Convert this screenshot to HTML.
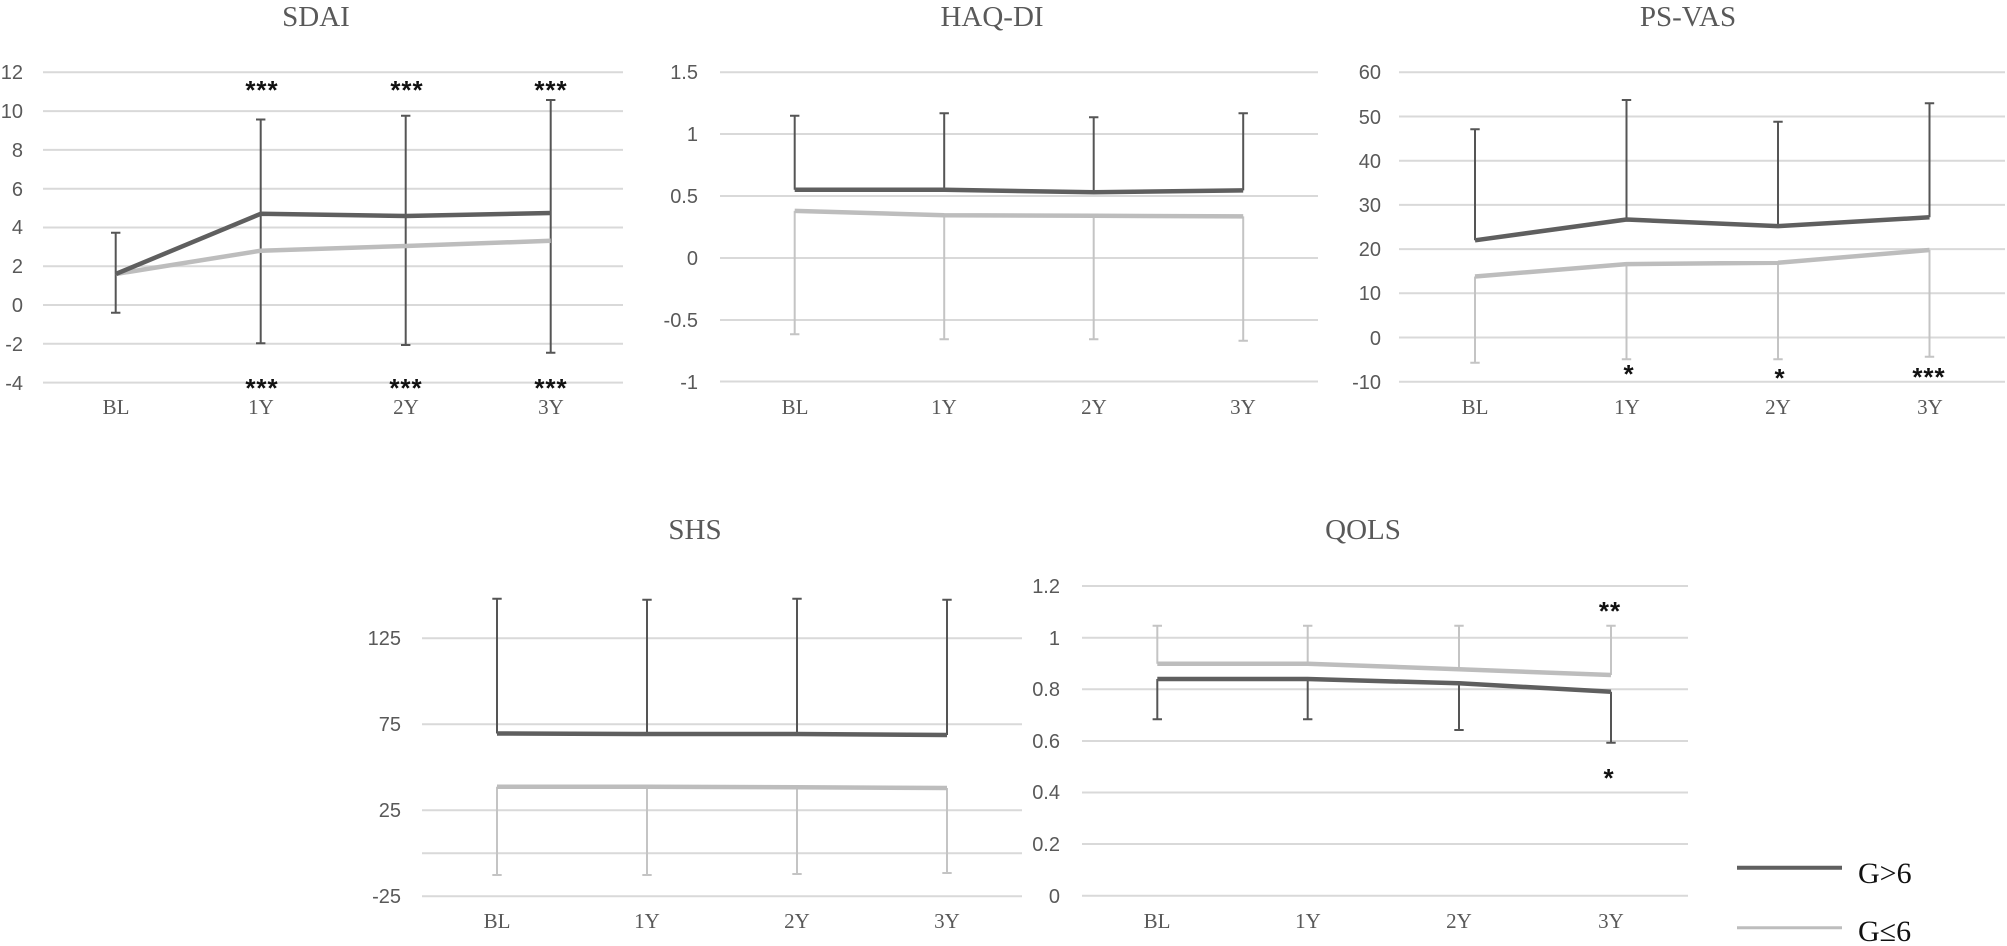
<!DOCTYPE html>
<html><head><meta charset="utf-8"><style>
html,body{margin:0;padding:0;background:#fff;}
svg{display:block;}
.g{stroke:#d9d9d9;stroke-width:2;}
.yl{font-family:"Liberation Sans",sans-serif;font-size:20px;fill:#595959;text-anchor:end;}
.xl{font-family:"Liberation Serif",serif;font-size:21px;fill:#595959;text-anchor:middle;}
.t{font-family:"Liberation Serif",serif;font-size:29px;fill:#595959;text-anchor:middle;}
.st{font-family:"Liberation Sans",sans-serif;font-size:26px;font-weight:bold;fill:#111;text-anchor:middle;letter-spacing:1px;}
.d{stroke:#5f5f5f;stroke-width:4.5;fill:none;stroke-linejoin:round;}
.l{stroke:#bdbdbd;stroke-width:4.5;fill:none;stroke-linejoin:round;}
.de{stroke:#555;stroke-width:2;fill:none;}
.le{stroke:#c4c4c4;stroke-width:2;fill:none;}
</style></head><body>
<svg width="2007" height="946" viewBox="0 0 2007 946" xmlns="http://www.w3.org/2000/svg">
<!-- SDAI -->
<text class="t" x="316" y="26">SDAI</text>
<g class="g">
<line x1="43" x2="623" y1="72.3" y2="72.3"/><line x1="43" x2="623" y1="111.1" y2="111.1"/><line x1="43" x2="623" y1="149.9" y2="149.9"/><line x1="43" x2="623" y1="188.7" y2="188.7"/><line x1="43" x2="623" y1="227.5" y2="227.5"/><line x1="43" x2="623" y1="266.3" y2="266.3"/><line x1="43" x2="623" y1="305" y2="305"/><line x1="43" x2="623" y1="343.8" y2="343.8"/><line x1="43" x2="623" y1="382.6" y2="382.6"/>
</g>
<g class="yl">
<text x="23" y="79">12</text><text x="23" y="118">10</text><text x="23" y="157">8</text><text x="23" y="196">6</text><text x="23" y="234">4</text><text x="23" y="273">2</text><text x="23" y="312">0</text><text x="23" y="351">-2</text><text x="23" y="390">-4</text>
</g>
<g class="xl"><text x="116" y="414">BL</text><text x="261" y="414">1Y</text><text x="406" y="414">2Y</text><text x="551" y="414">3Y</text></g>
<g class="de">
<path d="M115.7 232.7V312.7M111 232.7h9.4M111 312.7h9.4"/>
<path d="M260.7 119.5V343.3M256 119.5h9.4M256 343.3h9.4"/>
<path d="M405.7 115.7V345M401 115.7h9.4M401 345h9.4"/>
<path d="M550.7 100V352.7M546 100h9.4M546 352.7h9.4"/>
</g>
<polyline class="l" points="115.7,274 260.7,250.7 405.7,246 550.7,240.8"/>
<polyline class="d" points="115.7,274 260.7,213.8 405.7,216 550.7,213"/>
<g class="st"><text x="262" y="99">***</text><text x="407" y="99">***</text><text x="551" y="99">***</text>
<text x="262" y="397">***</text><text x="406" y="397">***</text><text x="551" y="397">***</text></g>

<!-- HAQ-DI -->
<text class="t" x="992" y="26">HAQ-DI</text>
<g class="g">
<line x1="720" x2="1318" y1="72.3" y2="72.3"/><line x1="720" x2="1318" y1="134" y2="134"/><line x1="720" x2="1318" y1="196" y2="196"/><line x1="720" x2="1318" y1="258" y2="258"/><line x1="720" x2="1318" y1="320" y2="320"/><line x1="720" x2="1318" y1="381.5" y2="381.5"/>
</g>
<g class="yl">
<text x="698" y="79">1.5</text><text x="698" y="141">1</text><text x="698" y="203">0.5</text><text x="698" y="265">0</text><text x="698" y="327">-0.5</text><text x="698" y="389">-1</text>
</g>
<g class="xl"><text x="795" y="414">BL</text><text x="944" y="414">1Y</text><text x="1094" y="414">2Y</text><text x="1243" y="414">3Y</text></g>
<g class="de">
<path d="M794.7 189.8V115.7M790 115.7h9.4"/>
<path d="M944.2 189.8V113.3M939.5 113.3h9.4"/>
<path d="M1093.7 192.3V117.3M1089 117.3h9.4"/>
<path d="M1243.2 190.4V113.3M1238.5 113.3h9.4"/>
</g>
<g class="le">
<path d="M794.7 210.9V334.3M790 334.3h9.4"/>
<path d="M944.2 215.2V339.3M939.5 339.3h9.4"/>
<path d="M1093.7 215.8V339.3M1089 339.3h9.4"/>
<path d="M1243.2 216.4V340.7M1238.5 340.7h9.4"/>
</g>
<polyline class="l" points="794.7,210.9 944.2,215.2 1093.7,215.8 1243.2,216.4"/>
<polyline class="d" points="794.7,189.8 944.2,189.8 1093.7,192.3 1243.2,190.4"/>

<!-- PS-VAS -->
<text class="t" x="1688" y="26">PS-VAS</text>
<g class="g">
<line x1="1399" x2="2005" y1="72.3" y2="72.3"/><line x1="1399" x2="2005" y1="116.5" y2="116.5"/><line x1="1399" x2="2005" y1="160.7" y2="160.7"/><line x1="1399" x2="2005" y1="204.9" y2="204.9"/><line x1="1399" x2="2005" y1="249.1" y2="249.1"/><line x1="1399" x2="2005" y1="293.3" y2="293.3"/><line x1="1399" x2="2005" y1="337.5" y2="337.5"/><line x1="1399" x2="2005" y1="381.7" y2="381.7"/>
</g>
<g class="yl">
<text x="1381" y="79">60</text><text x="1381" y="124">50</text><text x="1381" y="168">40</text><text x="1381" y="212">30</text><text x="1381" y="256">20</text><text x="1381" y="300">10</text><text x="1381" y="345">0</text><text x="1381" y="389">-10</text>
</g>
<g class="xl"><text x="1475" y="414">BL</text><text x="1627" y="414">1Y</text><text x="1778" y="414">2Y</text><text x="1930" y="414">3Y</text></g>
<g class="de">
<path d="M1475 240.3V129.3M1470.3 129.3h9.4"/>
<path d="M1626.5 219.5V100M1621.8 100h9.4"/>
<path d="M1778 226.1V121.7M1773.3 121.7h9.4"/>
<path d="M1929.5 217.3V103.3M1924.8 103.3h9.4"/>
</g>
<g class="le">
<path d="M1475 276.5V362.7M1470.3 362.7h9.4"/>
<path d="M1626.5 264.1V359.3M1621.8 359.3h9.4"/>
<path d="M1778 262.8V359.3M1773.3 359.3h9.4"/>
<path d="M1929.5 250V356.7M1924.8 356.7h9.4"/>
</g>
<polyline class="l" points="1475,276.5 1626.5,264.1 1778,262.8 1929.5,250"/>
<polyline class="d" points="1475,240.3 1626.5,219.5 1778,226.1 1929.5,217.3"/>
<g class="st"><text x="1629" y="383">*</text><text x="1780" y="387">*</text><text x="1929" y="386">***</text></g>

<!-- SHS -->
<text class="t" x="695" y="539">SHS</text>
<g class="g">
<line x1="422" x2="1022" y1="638.3" y2="638.3"/><line x1="422" x2="1022" y1="724.3" y2="724.3"/><line x1="422" x2="1022" y1="810.3" y2="810.3"/><line x1="422" x2="1022" y1="853.3" y2="853.3"/><line x1="422" x2="1022" y1="896.3" y2="896.3"/>
</g>
<g class="yl">
<text x="401" y="645">125</text><text x="401" y="731">75</text><text x="401" y="817">25</text><text x="401" y="903">-25</text>
</g>
<g class="xl"><text x="497" y="928">BL</text><text x="647" y="928">1Y</text><text x="797" y="928">2Y</text><text x="947" y="928">3Y</text></g>
<g class="de">
<path d="M497 733.5V598.7M492.3 598.7h9.4"/>
<path d="M647 734V599.7M642.3 599.7h9.4"/>
<path d="M797 734V598.7M792.3 598.7h9.4"/>
<path d="M947 735V599.7M942.3 599.7h9.4"/>
</g>
<g class="le">
<path d="M497 786.7V875M492.3 875h9.4"/>
<path d="M647 786.7V875M642.3 875h9.4"/>
<path d="M797 787.3V874M792.3 874h9.4"/>
<path d="M947 788V873M942.3 873h9.4"/>
</g>
<polyline class="l" points="497,786.7 647,786.7 797,787.3 947,788"/>
<polyline class="d" points="497,733.5 647,734 797,734 947,735"/>

<!-- QOLS -->
<text class="t" x="1363" y="539">QOLS</text>
<g class="g">
<line x1="1082" x2="1688" y1="586" y2="586"/><line x1="1082" x2="1688" y1="637.7" y2="637.7"/><line x1="1082" x2="1688" y1="689.3" y2="689.3"/><line x1="1082" x2="1688" y1="741" y2="741"/><line x1="1082" x2="1688" y1="792.5" y2="792.5"/><line x1="1082" x2="1688" y1="844" y2="844"/><line x1="1082" x2="1688" y1="895.7" y2="895.7"/>
</g>
<g class="yl">
<text x="1060" y="593">1.2</text><text x="1060" y="645">1</text><text x="1060" y="696">0.8</text><text x="1060" y="748">0.6</text><text x="1060" y="799">0.4</text><text x="1060" y="851">0.2</text><text x="1060" y="903">0</text>
</g>
<g class="xl"><text x="1157" y="928">BL</text><text x="1308" y="928">1Y</text><text x="1459" y="928">2Y</text><text x="1611" y="928">3Y</text></g>
<g class="le">
<path d="M1157.3 663.7V625.7M1152.6 625.7h9.4"/>
<path d="M1307.7 663.7V625.7M1303 625.7h9.4"/>
<path d="M1459 669.3V625.7M1454.3 625.7h9.4"/>
<path d="M1611 675V625.7M1606.3 625.7h9.4"/>
</g>
<g class="de">
<path d="M1157.3 679V719.3M1152.6 719.3h9.4"/>
<path d="M1307.7 679V719.3M1303 719.3h9.4"/>
<path d="M1459 683.3V730M1454.3 730h9.4"/>
<path d="M1611 691.7V742.7M1606.3 742.7h9.4"/>
</g>
<polyline class="l" points="1157.3,663.7 1307.7,663.7 1459,669.3 1611,675"/>
<polyline class="d" points="1157.3,679 1307.7,679 1459,683.3 1611,691.7"/>
<g class="st"><text x="1610" y="620">**</text><text x="1609" y="787">*</text></g>

<!-- Legend -->
<line x1="1737" x2="1842" y1="867.7" y2="867.7" stroke="#5f5f5f" stroke-width="4"/>
<line x1="1737" x2="1842" y1="927.7" y2="927.7" stroke="#bdbdbd" stroke-width="3"/>
<text x="1858" y="883" font-family="'Liberation Serif',serif" font-size="30" fill="#111">G&gt;6</text>
<text x="1858" y="941" font-family="'Liberation Serif',serif" font-size="30" fill="#111">G≤6</text>
</svg>
</body></html>
